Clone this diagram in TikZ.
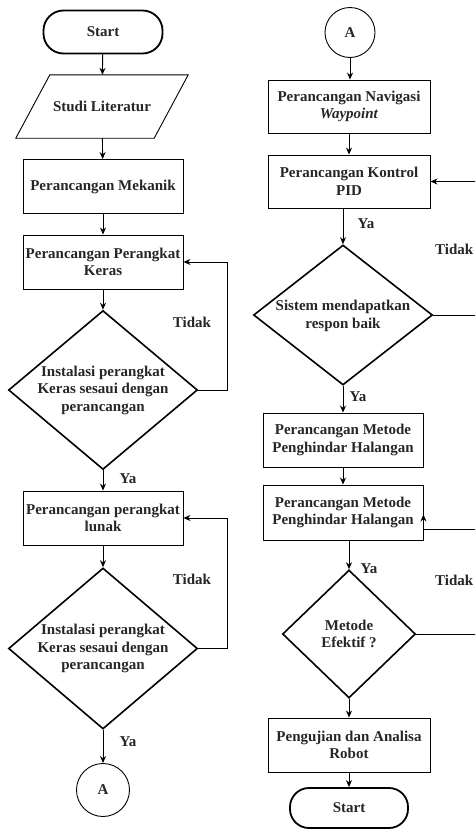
\documentclass[tikz,border=0pt]{standalone}
\usepackage{fontspec}
\setmainfont{Liberation Serif}
\usetikzlibrary{shapes.geometric,arrows.meta}
\begin{document}
\begin{tikzpicture}[x=1pt,y=-1pt,
  every node/.style={font=\fontsize{15}{17.5}\selectfont\bfseries, align=center, text=black!85},
  box/.style={draw, line width=0.9pt, rectangle, minimum width=160pt, minimum height=54pt, inner sep=0pt},
  dia/.style={draw, line width=1.6pt, diamond, inner sep=0pt},
  term/.style={draw, line width=1.8pt, rectangle, rounded corners=20pt, inner sep=0pt},
  conn/.style={draw, line width=0.9pt, circle, inner sep=0pt},
  io/.style={rectangle, minimum width=172pt, minimum height=63pt, inner sep=0pt},
  arr/.style={line width=0.9pt, -{Stealth[length=7pt,width=6pt]}},
  lab/.style={inner sep=0pt}
]
\useasboundingbox (0,0) rectangle (475,830);
\clip (0,0) rectangle (475,830);

% ---------- left column ----------
\node[term, minimum width=119pt, minimum height=43pt] (start) at (103,32) {Start};
\node[io] (studi) at (102,106.5) {Studi Literatur};
% slanted input/output outline around the text node
\draw[line width=0.9pt] (studi.south west) -- ([xshift=34pt]studi.north west)
  -- (studi.north east) -- ([xshift=-34pt]studi.south east) -- cycle;
\node[box] (mek) at (103,186.5) {Perancangan Mekanik};
\node[box] (keras) at (103,262) {Perancangan Perangkat\\Keras};
\node[dia, minimum width=189pt, minimum height=159pt] (d1) at (103,390) {};
\node (d1t) at (d1) {Instalasi perangkat\\Keras sesaui dengan\\perancangan};
\node[box] (lunak) at (103,518) {Perancangan perangkat\\lunak};
\node[dia, minimum width=189pt, minimum height=161pt] (d2) at (103,648.5) {};
\node (d2t) at (d2) {Instalasi perangkat\\Keras sesaui dengan\\perancangan};
\node[conn, minimum size=53pt] (a1) at (103,790) {A};

\draw[arr] (start) -- (studi);
\draw[arr] (studi) -- (mek);
\draw[arr] (mek) -- (keras);
\draw[arr] (keras) -- (d1);
\draw[arr] (d1) -- (lunak);
\draw[arr] (lunak) -- (d2);
\draw[arr] (d2) -- (a1);
\draw[arr] (d1.east) -- (227,390) |- (keras.east);
\draw[arr] (d2.east) -- (227,648.5) |- (lunak.east);

\node[lab] (t1) at (192,322) {Tidak};
\node[lab] (t2) at (192,579) {Tidak};
\node[lab] (y1) at (128,479) {Ya};
\node[lab] (y2) at (128,742) {Ya};

% ---------- right column ----------
\node[conn, minimum size=50pt] (a2) at (350,32.5) {A};
\node[box, minimum width=162pt, minimum height=53pt] (nav) at (349,106.5) {Perancangan Navigasi\\\textit{Waypoint}};
\node[box, minimum width=162pt, minimum height=53pt] (pid) at (349,181.5) {Perancangan Kontrol\\PID};
\node[dia, minimum width=179pt, minimum height=140pt] (d3) at (343,315) {};
\node (d3t) at (343,316) {Sistem mendapatkan\\respon baik};
\node[box] (met1) at (343,440) {Perancangan Metode\\Penghindar Halangan};
\node[box, minimum height=55pt] (met2) at (343,512.5) {Perancangan Metode\\Penghindar Halangan};
\node[dia, minimum width=133pt, minimum height=128pt] (d4) at (349,634) {};
\node (d4t) at (d4) {Metode\\Efektif ?};
\node[box, minimum width=162pt] (uji) at (349,745) {Pengujian dan Analisa\\Robot};
\node[term, minimum width=118pt, minimum height=40pt, rounded corners=19pt] (stop) at (349,808) {Start};

\draw[arr] (a2.south) -- (a2.south |- nav.north);
\draw[arr] (nav) -- (pid);
\draw[arr] (pid.south -| d3.north) -- (d3.north);
\draw[arr] (d3) -- (met1);
\draw[arr] (met1) -- (met2);
\draw[arr] (met2.south -| d4.north) -- (d4.north);
\draw[arr] (d4) -- (uji);
\draw[arr] (uji) -- (stop);
\draw[arr] (d3.east) -- (495,315) |- (pid.east);
\draw[arr] (d4.east) -- (495,634) |- ([yshift=11pt]met2.south east) -- ([yshift=-2pt]met2.east);

\node[lab] (y3) at (366,224) {Ya};
\node[lab] (y4) at (358,397) {Ya};
\node[lab] (y5) at (369,569) {Ya};
\node[lab, anchor=west] (t3) at (435,249) {Tidak};
\node[lab, anchor=west] (t4) at (435,580) {Tidak};
\end{tikzpicture}
\end{document}
